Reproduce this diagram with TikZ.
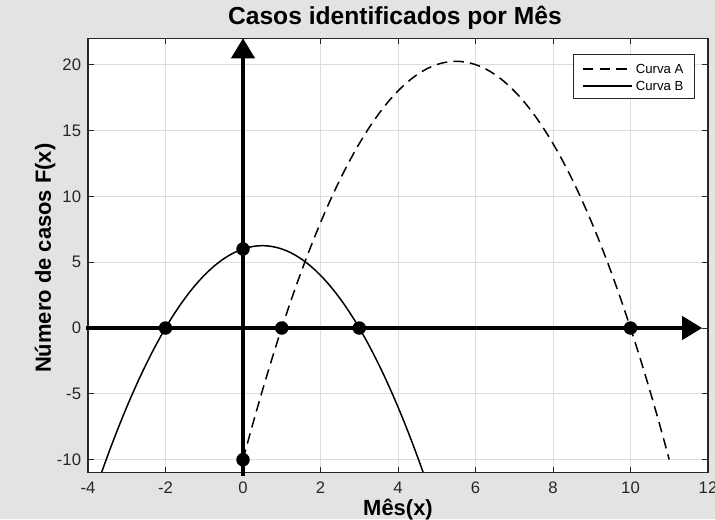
\documentclass[tikz,border=0pt]{standalone}
\usepackage{fontspec}
\setmainfont{Liberation Sans}
\usetikzlibrary{arrows.meta}

\definecolor{figgray}{HTML}{E3E3E3}
\definecolor{gridgray}{HTML}{DCDCDC}
\definecolor{boxgray}{HTML}{262626}

\tikzset{
  ticklabel/.style={text=boxgray,font=\fontsize{9.5}{11}\selectfont,inner sep=0pt},
  axislabel/.style={font=\fontsize{12.5}{14}\selectfont\bfseries,inner sep=0pt},
  legendtext/.style={font=\fontsize{7.5}{9}\selectfont,anchor=west,inner sep=0pt},
  curve/.style={line width=0.85pt},
  dashcurve/.style={curve,dash pattern=on 6pt off 3.5pt},
  axisarrow/.style={line width=2.3pt,-{Triangle[length=0.4cm,width=0.46cm]}},
  dot/.style={circle,fill=black,inner sep=0pt,minimum size=0.27cm}
}

\begin{document}
\begin{tikzpicture}
  \fill[figgray] (0,0) rectangle (14.3,10.38);
  \useasboundingbox (0,0) rectangle (14.3,10.38);
  \begin{scope}[shift={(4.86cm,3.82cm)},x=0.775cm,y=0.2634cm]
     \fill[white] (-4,-11) rectangle (12,22);
     \foreach \x in {-2,0,...,10} \draw[gridgray,line width=0.5pt] (\x,-11) -- (\x,22);
     \foreach \y in {-10,-5,...,20} \draw[gridgray,line width=0.5pt] (-4,\y) -- (12,\y);
     \foreach \x in {-4,-2,...,12} {
        \draw[boxgray,line width=0.5pt] (\x,-11) -- ++(0,0.12cm) (\x,22) -- ++(0,-0.12cm);
        \node[ticklabel] (xt\x) at (\x,-12.1) {\x};
     }
     \foreach \y in {-10,-5,...,20} {
        \draw[boxgray,line width=0.5pt] (-4,\y) -- ++(0.12cm,0) (12,\y) -- ++(-0.12cm,0);
        \node[ticklabel,anchor=east] (yt\y) at (-4.17,\y) {\y};
     }
     \begin{scope}
        \clip (-4,-11) rectangle (12,22);
        \draw[dashcurve] plot[domain=0:11,samples=120] (\x,{11*(\x)-(\x)*(\x)-10});
        \draw[curve] plot[domain=-3.8:4.8,samples=120] (\x,{6+(\x)-(\x)*(\x)});
     \end{scope}
     \draw[boxgray,line width=0.6pt] (-4,-11) rectangle (12,22);
     \coordinate (xstart) at (-4.05,0);
     \coordinate (xend)   at (11.85,0);
     \coordinate (ystart) at (0,-11.2);
     \coordinate (yend)   at (0,22);
     \draw[axisarrow] (xstart) -- (xend);
     \draw[axisarrow] (ystart) -- (yend);
     \node[dot] (rootBl) at (-2,0) {};
     \node[dot] (rootBr) at (3,0) {};
     \node[dot] (rootAl) at (1,0) {};
     \node[dot] (rootAr) at (10,0) {};
     \node[dot] (cutB)   at (0,6) {};
     \node[dot] (cutA)   at (0,-10) {};
     \draw[boxgray,fill=white,line width=0.5pt] (8.52,17.4) rectangle (11.64,20.8);
     \coordinate (legAa) at (8.77,19.67);
     \coordinate (legAb) at (10.04,19.67);
     \coordinate (legBa) at (8.77,18.37);
     \coordinate (legBb) at (10.04,18.37);
     \draw[dashcurve] (legAa) -- (legAb);
     \draw[curve] (legBa) -- (legBb);
     \node[legendtext] (legA) at (10.13,19.67) {Curva A};
     \node[legendtext] (legB) at (10.13,18.37) {Curva B};
     \node[axislabel,font=\fontsize{14}{16}\selectfont\bfseries] (title) at (3.92,23.55) {Casos identificados por Mês};
     \node[axislabel] (xlab) at (4.0,-13.8) {Mês(x)};
     \node[axislabel,rotate=90] (ylab) at (-5.11,5.3) {Número de casos F(x)};
  \end{scope}
\end{tikzpicture}
\end{document}
